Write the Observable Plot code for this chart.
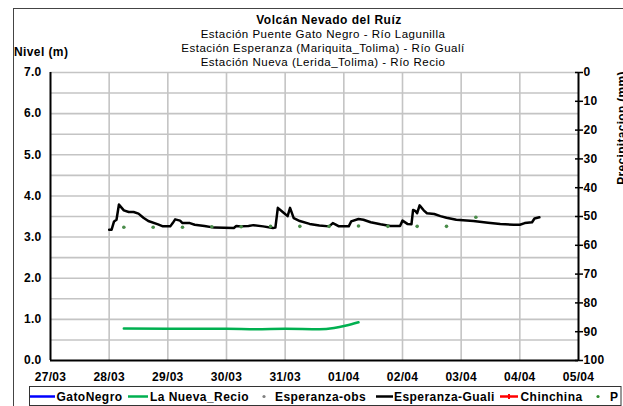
<!DOCTYPE html>
<html>
<head>
<meta charset="utf-8">
<script src="https://cdn.jsdelivr.net/npm/d3@7"></script>
<script src="https://cdn.jsdelivr.net/npm/@observablehq/plot@0.6"></script>
<style>
  html, body { margin: 0; padding: 0; background: #fff; }
  svg { display: block; }
</style>
</head>
<body>
<div id="chart"></div>
<script>
// ---- data ----
const YEAR = "2012";
const dayTicks = ["03-27","03-28","03-29","03-30","03-31","04-01","04-02","04-03","04-04","04-05"];
const levelTicks = [0, 1, 2, 3, 4, 5, 6, 7];
const precipTicks = [0, 10, 20, 30, 40, 50, 60, 70, 80, 90, 100];

const gualiTime = ["03-28 00:00","03-28 01:00","03-28 02:00","03-28 03:00","03-28 04:00","03-28 06:00","03-28 08:00","03-28 10:00","03-28 12:00","03-28 14:00","03-28 16:00","03-28 20:00","03-28 22:00",
  "03-29 01:00","03-29 02:00","03-29 03:00","03-29 05:00","03-29 06:00","03-29 09:00","03-29 11:00","03-29 15:00","03-29 19:00",
  "03-30 03:00","03-30 04:00","03-30 06:00","03-30 09:00","03-30 11:00","03-30 15:00","03-30 19:00","03-30 20:00","03-30 21:00","03-30 23:00",
  "03-31 01:00","03-31 02:00","03-31 03:30","03-31 06:00","03-31 10:00","03-31 14:00","03-31 18:00","03-31 19:30","03-31 20:30","03-31 22:00",
  "04-01 02:00","04-01 03:00","04-01 06:00","04-01 08:00","04-01 11:00","04-01 15:00","04-01 19:00","04-01 23:00",
  "04-02 00:00","04-02 02:00","04-02 03:40","04-02 04:20","04-02 05:20","04-02 06:00","04-02 07:00","04-02 08:40","04-02 10:00","04-02 13:00","04-02 15:30","04-02 18:00","04-02 22:00",
  "04-03 05:00","04-03 11:00","04-03 16:00","04-03 21:30",
  "04-04 00:00","04-04 02:00","04-04 05:00","04-04 06:00","04-04 08:00"];
const gualiLevel = [3.18,3.18,3.38,3.42,3.79,3.65,3.61,3.61,3.57,3.47,3.39,3.31,3.26,
  3.26,3.34,3.43,3.40,3.34,3.34,3.30,3.27,3.23,
  3.22,3.27,3.26,3.27,3.29,3.26,3.22,3.23,3.71,3.61,
  3.51,3.71,3.46,3.39,3.32,3.28,3.26,3.34,3.31,3.26,
  3.26,3.38,3.44,3.42,3.36,3.31,3.27,3.27,
  3.40,3.32,3.31,3.66,3.63,3.58,3.77,3.65,3.58,3.56,3.51,3.47,3.42,
  3.39,3.35,3.32,3.30,
  3.30,3.34,3.36,3.45,3.48];

const recioTime = ["03-28 06:00","03-29 00:00","03-29 12:00","03-30 00:00","03-30 12:00","03-31 00:00","03-31 14:00","03-31 20:00","04-01 01:00","04-01 06:00"];
const recioLevel = [0.78,0.77,0.77,0.77,0.76,0.77,0.76,0.79,0.85,0.93];

const obsTime = ["03-28 06:00","03-28 18:00","03-29 06:00","03-29 18:00","03-30 06:00","03-30 18:00","03-31 06:00","03-31 18:00","04-01 06:00","04-01 18:00","04-02 06:00","04-02 18:00","04-03 06:00"];
const obsLevel = [3.24,3.24,3.24,3.25,3.25,3.26,3.26,3.26,3.27,3.26,3.26,3.26,3.48];

const titleLines = ["Estación Puente Gato Negro - Río Lagunilla",
                    "Estación Esperanza (Mariquita_Tolima) - Río Gualí",
                    "Estación Nueva (Lerida_Tolima) - Río Recio"];
const legendNames = ["GatoNegro","La Nueva_Recio","Esperanza-obs","Esperanza-Guali","Chinchina","P"];
const legendColors = ["#0000ff","#00b050","#808080","#000000","#ff0000","#2e8b2e"];

// ---- build ----
const parse = d3.utcParse("%Y-%m-%d %H:%M");
const t = s => parse(YEAR + "-" + s);
const days = dayTicks.map(d => t(d + " 00:00"));
const guali = gualiTime.map((s, i) => ({date: t(s), v: gualiLevel[i]}));
const recio = recioTime.map((s, i) => ({date: t(s), v: recioLevel[i]}));
const obs = obsTime.map((s, i) => ({date: t(s), v: obsLevel[i]}));
const pToLevel = p => 7 - p * 0.07;

const font = "'Liberation Sans', Arial, sans-serif";
const grid = "#c4c4c4";

const chart = Plot.plot({
  width: 623,
  height: 406,
  marginLeft: 50,
  marginRight: 45,
  marginTop: 72,
  marginBottom: 46,
  style: {fontFamily: font, fontSize: "12px", fontWeight: "bold", background: "#fff", color: "#000", letterSpacing: "0.3px"},
  x: {type: "utc", domain: [days[0], days[days.length - 1]]},
  y: {domain: [0, 7]},
  marks: [
    Plot.gridY({ticks: d3.range(0.5, 7.01, 0.5), stroke: grid, strokeOpacity: 1, strokeWidth: 1.6}),
    Plot.gridX({ticks: days.slice(1, -1), stroke: grid, strokeOpacity: 1, strokeWidth: 1.6}),
    Plot.axisX({ticks: days, tickFormat: d3.utcFormat("%d/%m"), tickSize: 0, tickPadding: 12, label: null}),
    Plot.axisY({ticks: levelTicks, tickFormat: d3.format(".1f"), tickSize: 0, tickPadding: 9, label: null}),
    Plot.axisY({anchor: "right", ticks: precipTicks.map(pToLevel), tickFormat: v => String(Math.round((7 - v) / 0.07)),
      tickSize: 8, inset: 4, tickPadding: 1, strokeWidth: 1.5, label: null}),
    Plot.ruleX([days[0]], {stroke: "#000", strokeWidth: 2}),
    Plot.ruleX([days[days.length - 1]], {stroke: "#000", strokeWidth: 2}),
    Plot.ruleY([0], {stroke: "#000", strokeWidth: 2}),
    Plot.line(recio, {x: "date", y: "v", stroke: legendColors[1], strokeWidth: 2.5, curve: "monotone-x"}),
    Plot.line(guali, {x: "date", y: "v", stroke: "#000", strokeWidth: 2.5, curve: "linear"}),
    Plot.dot(obs, {x: "date", y: "v", r: 1.8, fill: "#4a8c4a", stroke: "none"})
  ]
});

document.getElementById("chart").appendChild(chart);

const svg = d3.select(chart);
// outer border
svg.append("rect").attr("x", 13.5).attr("y", 8.5).attr("width", 700).attr("height", 500)
  .attr("fill", "none").attr("stroke", "#444").attr("stroke-width", 1);

// titles
const tg = svg.append("g").attr("font-family", font).attr("fill", "#000").attr("text-anchor", "middle");
tg.append("text").attr("x", 329).attr("y", 23.5).attr("font-size", 12).attr("font-weight", "bold")
  .style("letter-spacing", "0.5px").text("Volcán Nevado del Ruíz");
titleLines.forEach((s, i) => {
  tg.append("text").attr("x", 323).attr("y", 37.5 + i * 14).attr("font-size", 11.5).attr("font-weight", "normal")
    .style("letter-spacing", "0.5px").text(s);
});
svg.append("text").attr("x", 14).attr("y", 56).attr("text-anchor", "start").attr("font-family", font).attr("font-size", 12)
  .attr("font-weight", "bold").style("letter-spacing", "0.4px").text("Nivel (m)");
svg.append("text").attr("transform", "translate(626,128) rotate(-90)").attr("text-anchor", "middle")
  .attr("font-family", font).attr("font-size", 12).attr("font-weight", "bold").style("letter-spacing", "0.3px")
  .text("Precipitacion (mm)");

// legend
const lg = svg.append("g").attr("font-family", font).attr("font-size", 12).attr("font-weight", "bold")
  .attr("text-anchor", "start").style("letter-spacing", "0.45px");
lg.append("rect").attr("x", 29.5).attr("y", 386.5).attr("width", 591.5).attr("height", 19)
  .attr("fill", "#fff").attr("stroke", "#333").attr("stroke-width", 1);
const ly = 396.5;
const items = [
  {kind: "line", x0: 30, x1: 55, tx: 56.5},
  {kind: "line", x0: 128, x1: 148, tx: 150},
  {kind: "dot", cx: 264, tx: 275},
  {kind: "line", x0: 376, x1: 393, tx: 394},
  {kind: "marker", x0: 500, x1: 518, tx: 520.5},
  {kind: "dot", cx: 598, tx: 610}
];
items.forEach((it, i) => {
  const c = legendColors[i];
  if (it.kind === "line" || it.kind === "marker") {
    lg.append("line").attr("x1", it.x0).attr("x2", it.x1).attr("y1", ly).attr("y2", ly)
      .attr("stroke", c).attr("stroke-width", 2.5);
    if (it.kind === "marker") {
      lg.append("rect").attr("x", (it.x0 + it.x1) / 2 - 1).attr("y", ly - 2.5).attr("width", 2).attr("height", 5).attr("fill", c);
    }
  } else {
    lg.append("circle").attr("cx", it.cx).attr("cy", ly).attr("r", 1.6).attr("fill", c);
  }
  lg.append("text").attr("x", it.tx).attr("y", ly + 4.3).attr("fill", "#000").text(legendNames[i]);
});
</script>
</body>
</html>
